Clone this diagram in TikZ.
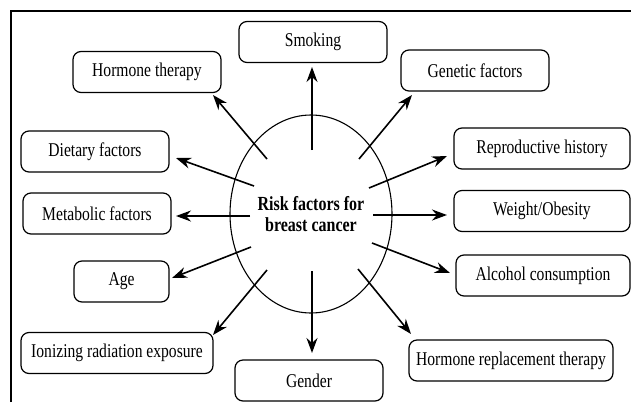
\documentclass[tikz,border=0pt]{standalone}
\usepackage{fontspec}
\setmainfont[FakeStretch=0.80]{Liberation Serif}
\usetikzlibrary{shapes.geometric,arrows.meta}
\begin{document}
\begin{tikzpicture}[x=1pt,y=-1pt,
  fbox/.style={draw, rectangle, rounded corners=8pt, line width=1.2pt, inner sep=0pt,
    minimum height=41pt, font=\fontsize{19.5}{21}\selectfont},
  arr/.style={line width=1.6pt, -{Stealth[length=15pt,width=11pt]}}]
\useasboundingbox (0,0) rectangle (631,402);
\draw[line width=1.4pt] (11,402) -- (11,11) -- (631,11);
\node[draw, ellipse, line width=1.1pt, minimum width=162pt, minimum height=198pt, inner sep=0pt,
  align=center, font=\fontsize{20}{21}\selectfont\bfseries] (c) at (311,214) {Risk factors for\\breast cancer};
% boxes
\node[fbox, minimum width=148pt] (smk) at (313,42) {Smoking};
\node[fbox, minimum width=148pt] (ht) at (147,72) {Hormone therapy};
\node[fbox, minimum width=148pt] (diet) at (95,151.5) {Dietary factors\hspace{10pt}};
\node[fbox, minimum width=148pt] (gen) at (475,70.5) {Genetic factors};
\node[fbox, minimum width=176pt] (rep) at (542,148.5) {Reproductive history};
\node[fbox, minimum width=148pt] (met) at (97,213.5) {Metabolic factors};
\node[fbox, minimum width=176pt] (wo) at (542,211) {Weight/Obesity};
\node[fbox, minimum width=95pt] (age) at (121.5,281.5) {Age};
\node[fbox, minimum width=174pt] (alc) at (543,275.5) {Alcohol consumption};
\node[fbox, minimum width=192pt] (ion) at (117,353) {Ionizing radiation exposure};
\node[fbox, minimum width=204pt] (hrt) at (511,360.5) {Hormone replacement therapy};
\node[fbox, minimum width=148pt] (gnd) at (309,380.5) {Gender};
% arrow start points
\coordinate (s1) at (312,150);
\coordinate (s2) at (267,159);
\coordinate (s3) at (254,186);
\coordinate (s4) at (359,159);
\coordinate (s5) at (369,188);
\coordinate (s6) at (250,216);
\coordinate (s7) at (373,215);
\coordinate (s8) at (251,247);
\coordinate (s9) at (372,243);
\coordinate (s10) at (267,270);
\coordinate (s11) at (358,269);
\coordinate (s12) at (312,271);
% arrow tips
\coordinate (t1) at (312,67);
\coordinate (t2) at (213,95);
\coordinate (t3) at (176,158);
\coordinate (t4) at (412,95);
\coordinate (t5) at (447,156);
\coordinate (t6) at (176,216);
\coordinate (t7) at (447,215);
\coordinate (t8) at (172,278);
\coordinate (t9) at (450,273);
\coordinate (t10) at (213,335);
\coordinate (t11) at (411,334);
\coordinate (t12) at (312,353);
\draw[arr] (s1) -- (t1);
\draw[arr] (s2) -- (t2);
\draw[arr] (s3) -- (t3);
\draw[arr] (s4) -- (t4);
\draw[arr] (s5) -- (t5);
\draw[arr] (s6) -- (t6);
\draw[arr] (s7) -- (t7);
\draw[arr] (s8) -- (t8);
\draw[arr] (s9) -- (t9);
\draw[arr] (s10) -- (t10);
\draw[arr] (s11) -- (t11);
\draw[arr] (s12) -- (t12);
\end{tikzpicture}
\end{document}
